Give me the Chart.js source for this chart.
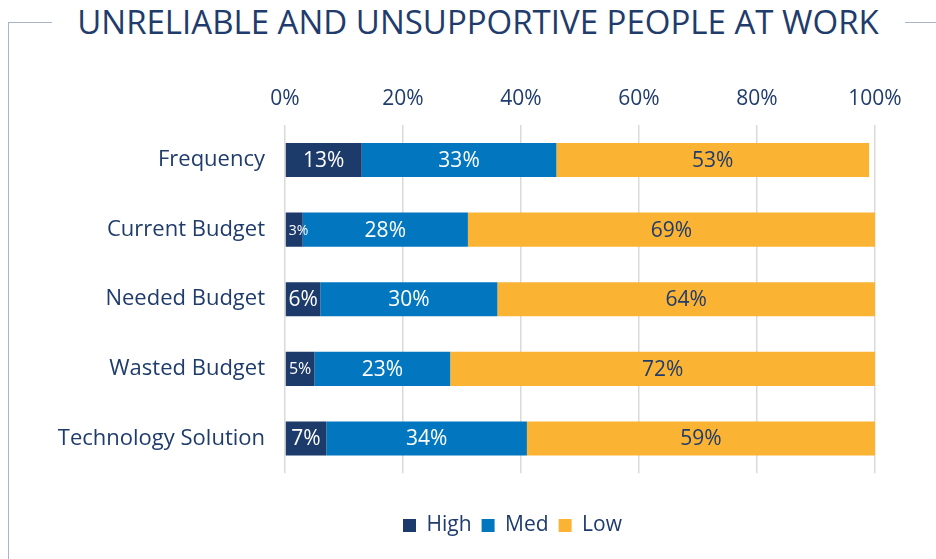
<!DOCTYPE html>
<html>
<head>
<meta charset="utf-8">
<title>Unreliable and unsupportive people at work</title>
<script src="https://cdn.jsdelivr.net/npm/chart.js@4.4.1/dist/chart.umd.min.js"></script>
<style>
    html, body { margin: 0; padding: 0; background: #ffffff; }
    #wrap { position: relative; width: 936px; height: 559px; overflow: hidden; }
    #grafico { position: absolute; left: 0; top: 0; }
    .marco { position: absolute; background: #a9b4c6; }
    #titulo {
        position: absolute; top: 0; left: 478px; transform: translateX(-50%);
        margin: 0; white-space: nowrap;
        font-family: "Open Sans", sans-serif; font-weight: 400; font-size: 33px;
        line-height: 44px; color: #1f3c6c;
    }
</style>
</head>
<body>
<div id="wrap">
    <div class="marco" style="left:8px; top:22px; width:1px; height:537px;"></div>
    <div class="marco" style="left:8px; top:22px; width:44px; height:1px;"></div>
    <div class="marco" style="left:905px; top:22px; width:31px; height:1px;"></div>
    <h1 id="titulo">UNRELIABLE AND UNSUPPORTIVE PEOPLE AT WORK</h1>
    <canvas id="grafico" width="936" height="559"></canvas>
</div>
<script>
const categorias = ["Frequency", "Current Budget", "Needed Budget", "Wasted Budget", "Technology Solution"];
const niveles = ["High", "Med", "Low"];
const valoresHigh = [13, 3, 6, 5, 7];
const valoresMed = [33, 28, 30, 23, 34];
const valoresLow = [53, 69, 64, 72, 59];
const ticksX = [0, 20, 40, 60, 80, 100];

const AZUL_OSCURO = "#1c3a6a";
const AZUL = "#0277c0";
const AMBAR = "#fbb334";
const TEXTO = "#1f3c6c";
const FUENTE = "'Open Sans', sans-serif";

// Etiquetas de porcentaje dentro de cada segmento
const etiquetasBarras = {
    id: "etiquetasBarras",
    afterDatasetsDraw(chart) {
        const ctx = chart.ctx;
        ctx.save();
        ctx.textBaseline = "middle";
        chart.data.datasets.forEach((ds, i) => {
            const meta = chart.getDatasetMeta(i);
            meta.data.forEach((bar, j) => {
                const texto = ds.data[j] + "%";
                const izq = Math.min(bar.base, bar.x);
                const ancho = Math.abs(bar.x - bar.base);
                let size = 21;
                ctx.font = size + "px " + FUENTE;
                if (ctx.measureText(texto).width > ancho - 4) {
                    size = 16;
                    ctx.font = size + "px " + FUENTE;
                }
                ctx.fillStyle = i === 2 ? TEXTO : "#ffffff";
                if (ctx.measureText(texto).width > ancho) {
                    size = 14;
                    ctx.font = size + "px " + FUENTE;
                    ctx.textAlign = "left";
                    ctx.fillText(texto, izq + 3, bar.y + 1);
                } else {
                    ctx.textAlign = "center";
                    ctx.fillText(texto, izq + ancho / 2, bar.y + 1);
                }
            });
        });
        ctx.restore();
    }
};

// La leyenda va centrada un poco a la derecha del centro del lienzo
const moverLeyenda = {
    id: "moverLeyenda",
    afterLayout(chart) {
        chart.legend.left += 55;
        chart.legend.right += 55;
    }
};

new Chart(document.getElementById("grafico"), {
    type: "bar",
    data: {
        labels: categorias,
        datasets: [
            { label: niveles[0], data: valoresHigh, backgroundColor: AZUL_OSCURO },
            { label: niveles[1], data: valoresMed, backgroundColor: AZUL },
            { label: niveles[2], data: valoresLow, backgroundColor: AMBAR }
        ]
    },
    options: {
        indexAxis: "y",
        responsive: false,
        animation: false,
        categoryPercentage: 0.7,
        barPercentage: 0.7,
        layout: { padding: { top: 73, left: 40, right: 61, bottom: 13 } },
        scales: {
            x: {
                position: "top",
                stacked: true,
                min: 0,
                max: 100,
                afterBuildTicks: (scale) => { scale.ticks = ticksX.map(v => ({ value: v })); },
                grid: { color: "#dadada", lineWidth: 1.5, drawTicks: false },
                border: { display: false },
                ticks: {
                    padding: 13.5,
                    color: TEXTO,
                    font: { family: FUENTE, size: 21 },
                    callback: (v) => v + "%"
                }
            },
            y: {
                stacked: true,
                grid: { display: false, drawTicks: false },
                border: { display: false },
                afterFit: (scale) => { scale.width = 245; },
                ticks: {
                    padding: 20,
                    color: TEXTO,
                    font: { family: FUENTE, size: 22 }
                }
            },
            espacio: {
                type: "linear",
                position: "bottom",
                grid: { display: false, drawTicks: false },
                border: { display: false },
                ticks: { display: false },
                afterFit: (scale) => { scale.height = 31.75; }
            }
        },
        plugins: {
            tooltip: { enabled: false },
            legend: {
                position: "bottom",
                labels: {
                    boxWidth: 13,
                    boxHeight: 13,
                    padding: 10,
                    color: TEXTO,
                    font: { family: FUENTE, size: 21 }
                }
            }
        }
    },
    plugins: [etiquetasBarras, moverLeyenda]
});
</script>
</body>
</html>
